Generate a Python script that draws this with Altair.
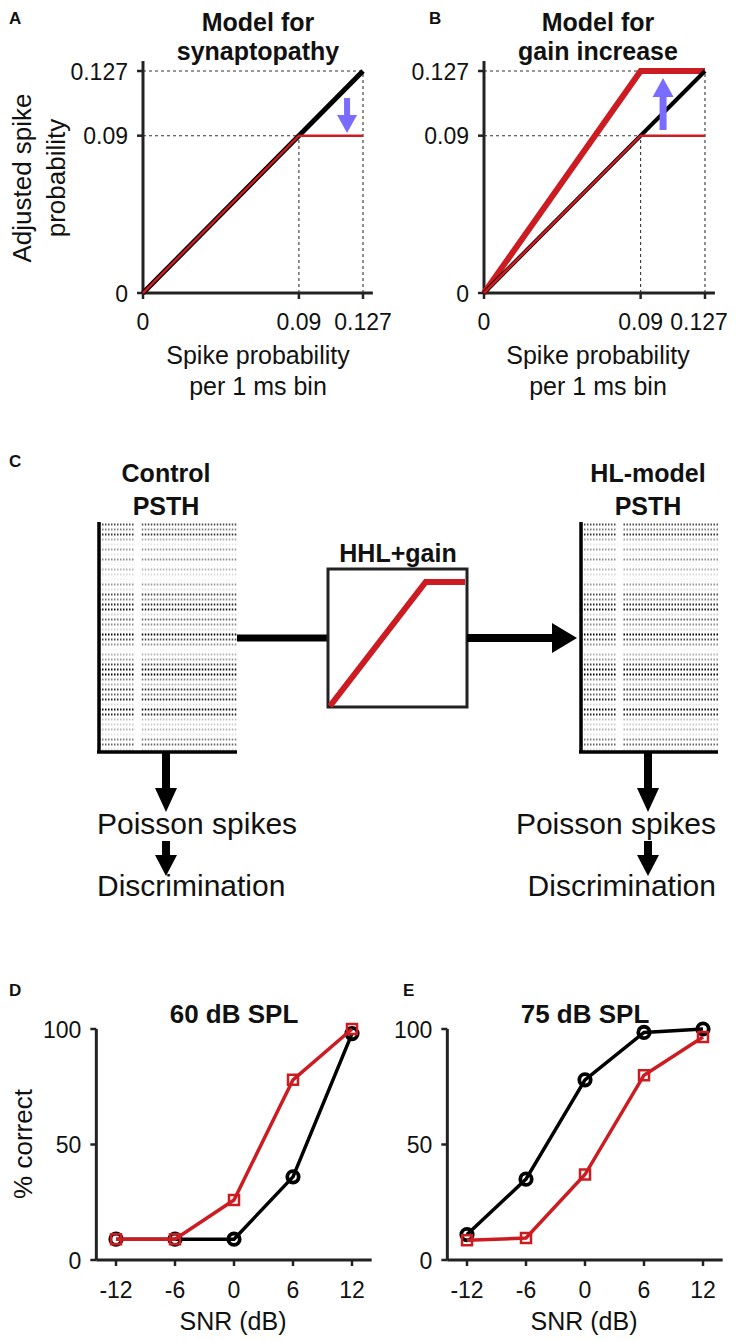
import altair as alt
import pandas as pd

# ---------------- data ----------------
prob_ticks = [0, 0.09, 0.127]
prob_tick_labels = ["0", "0.09", "0.127"]
prob_axis_end = 0.1327
unity_in = [0, 0.127]
unity_out = [0, 0.127]
synapto_in = [0, 0.09, 0.127]
synapto_out = [0, 0.09, 0.09]
gain_in = [0, 0.09, 0.127]
gain_out = [0, 0.127, 0.127]
arrow_a = [0.1178, 0.0915]   # tip of the down arrow in A
arrow_b = [0.1029, 0.123]    # tip of the up arrow in B

snr_db = [-12, -6, 0, 6, 12]
snr_tick_labels = ["-12", "-6", "0", "6", "12"]
pc_ticks = [0, 50, 100]
pc_tick_labels = ["0", "50", "100"]
d_control = [9, 9, 9, 36, 98]
d_hlmodel = [9, 9, 26, 78, 100]
e_control = [11, 35, 78, 98.5, 100]
e_hlmodel = [8.5, 9.5, 37, 80, 96.5]

# spike raster: darkness of each row (top to bottom)
raster_density = [0.7, 0.5, 0.8, 0.35, 0.1, 0.4, 0.1, 0.45, 0.05, 0.3,
                  0.15, 0.05, 0.4, 0.15, 0.7, 0.5, 0.85, 0.9, 0.2, 0.6,
                  0.45, 0.2, 1.0, 0.7, 0.45, 0.05, 0.3, 0.4, 0.75, 0.95,
                  1.0, 0.5, 0.35, 0.8, 0.6, 0.85, 0.15, 0.95, 0.85, 0.25,
                  0.2, 0.3, 0.12, 0.5, 0.6, 0.15]
raster_segments = [[0.0, 0.26], [0.31, 1.0]]

# ---------------- style ----------------
O = 8
FONT = "Liberation Sans, Arial, Helvetica, sans-serif"
RED = "#CC1C22"
BLUE = "#7A6CFF"
AXC = "#222222"
TXT = "#111111"


def S(domain, r0, r1):
    return alt.Scale(domain=domain, range=[r0 - O, r1 - O], nice=False, zero=False)


def X(f, s):
    return alt.X(f, scale=s, axis=None)


def Y(f, s):
    return alt.Y(f, scale=s, axis=None)


def arrow_path(direction, length, head_len, head_w, shaft_w, unit=10.0):
    L, h, w, s = length / unit, head_len / unit, head_w / 2 / unit, shaft_w / 2 / unit
    pts = [(0, 0), (-w, -h), (-s, -h), (-s, -L), (s, -L), (s, -h), (w, -h)]
    if direction == "up":
        pts = [(x, -y) for x, y in pts]
    elif direction == "right":
        pts = [(y, x) for x, y in pts]
    return "M" + "L".join(f"{x:.3f},{y:.3f}" for x, y in pts) + "Z"


ONE = pd.DataFrame({"a": [0]})
layers = []


def text(x, y, t, size, bold=False, align="center", angle=0, lh=None):
    props = dict(font=FONT, fontSize=size, fontWeight="bold" if bold else "normal",
                 align=align, baseline="alphabetic", color=TXT)
    if angle:
        props["angle"] = angle
    if lh:
        props["lineHeight"] = lh
    layers.append(alt.Chart(ONE).mark_text(**props).encode(
        x=alt.value(x - O), y=alt.value(y - O), text=alt.value(t)))


def axes(xs, ys, xmin, xmax, ymin, ymax, xt, xtl, yt, ytl, fs, xdy, last_dx=0):
    layers.append(alt.Chart(pd.DataFrame({"x": [xmin], "x2": [xmax], "y": [ymin]}))
                  .mark_rule(color=AXC, strokeWidth=3)
                  .encode(x=X("x:Q", xs), x2="x2:Q", y=Y("y:Q", ys)))
    layers.append(alt.Chart(pd.DataFrame({"x": [xmin], "y": [ymin], "y2": [ymax]}))
                  .mark_rule(color=AXC, strokeWidth=3)
                  .encode(x=X("x:Q", xs), y=Y("y:Q", ys), y2="y2:Q"))
    layers.append(alt.Chart(pd.DataFrame({"x": [xmin] * len(yt), "y": yt}))
                  .mark_rule(color=AXC, strokeWidth=2.5, xOffset=-6, x2Offset=0)
                  .encode(x=X("x:Q", xs), x2="x:Q", y=Y("y:Q", ys)))
    layers.append(alt.Chart(pd.DataFrame({"x": xt, "y": [ymin] * len(xt)}))
                  .mark_rule(color=AXC, strokeWidth=2.5, yOffset=0, y2Offset=6)
                  .encode(x=X("x:Q", xs), y=Y("y:Q", ys), y2="y:Q"))
    layers.append(alt.Chart(pd.DataFrame({"x": [xmin] * len(yt), "y": yt, "t": ytl}))
                  .mark_text(font=FONT, fontSize=fs, align="right", baseline="alphabetic",
                             dx=-15, dy=8.5, color=TXT)
                  .encode(x=X("x:Q", xs), y=Y("y:Q", ys), text="t:N"))
    n = len(xt)
    layers.append(alt.Chart(pd.DataFrame({"x": xt[:n - 1], "y": [ymin] * (n - 1), "t": xtl[:n - 1]}))
                  .mark_text(font=FONT, fontSize=fs, align="center", baseline="alphabetic",
                             dy=xdy, color=TXT)
                  .encode(x=X("x:Q", xs), y=Y("y:Q", ys), text="t:N"))
    lp = dict(font=FONT, fontSize=fs, align="center", baseline="alphabetic", dy=xdy, color=TXT)
    if last_dx:
        lp["dx"] = last_dx
    layers.append(alt.Chart(pd.DataFrame({"x": xt[n - 1:], "y": [ymin], "t": xtl[n - 1:]}))
                  .mark_text(**lp)
                  .encode(x=X("x:Q", xs), y=Y("y:Q", ys), text="t:N"))


def line(xs, ys, xv, yv, color, width):
    layers.append(alt.Chart(pd.DataFrame({"x": xv, "y": yv}))
                  .mark_line(color=color, strokeWidth=width)
                  .encode(x=X("x:Q", xs), y=Y("y:Q", ys)))


def dashed(xs, ys):
    layers.append(alt.Chart(pd.DataFrame({"x": [0, 0], "x2": [prob_ticks[2]] * 2,
                                          "y": [prob_ticks[1], prob_ticks[2]]}))
                  .mark_rule(color="#333333", strokeWidth=1.1, strokeDash=[3, 3])
                  .encode(x=X("x:Q", xs), x2="x2:Q", y=Y("y:Q", ys)))
    layers.append(alt.Chart(pd.DataFrame({"x": [prob_ticks[1], prob_ticks[2]], "y": [0, 0],
                                          "y2": [prob_ticks[1], prob_ticks[2]]}))
                  .mark_rule(color="#333333", strokeWidth=1.1, strokeDash=[3, 3])
                  .encode(x=X("x:Q", xs), y=Y("y:Q", ys), y2="y2:Q"))


def arrow_at(xs, ys, tip, path, color):
    layers.append(alt.Chart(pd.DataFrame({"x": [tip[0]], "y": [tip[1]]}))
                  .mark_point(shape=path, size=400, filled=True, color=color, opacity=1, strokeWidth=0)
                  .encode(x=X("x:Q", xs), y=Y("y:Q", ys)))


def arrow_px(x, y, path, color="black"):
    layers.append(alt.Chart(ONE)
                  .mark_point(shape=path, size=400, filled=True, color=color, opacity=1, strokeWidth=0)
                  .encode(x=alt.value(x - O), y=alt.value(y - O)))


# ---------------- panel A ----------------
AXs = S([0, 0.127], 143, 363)
AYs = S([0, 0.127], 293, 71)
dashed(AXs, AYs)
axes(AXs, AYs, 0, prob_axis_end, 0, prob_axis_end, prob_ticks, prob_tick_labels,
     prob_ticks, prob_tick_labels, 23, 37)
line(AXs, AYs, unity_in, unity_out, "black", 5)
line(AXs, AYs, synapto_in, synapto_out, RED, 2.5)
arrow_at(AXs, AYs, arrow_a, arrow_path("down", 35, 18, 20, 6), BLUE)
text(9, 24, "A", 17, bold=True, align="left")
text(258, 31, ["Model for", "synaptopathy"], 25, bold=True, lh=29)
text(31, 178, ["Adjusted spike", "probability"], 26, angle=270, lh=34)
text(258, 364, ["Spike probability", "per 1 ms bin"], 25, lh=31)

# ---------------- panel B ----------------
BXs = S([0, 0.127], 484, 705)
BYs = AYs
dashed(BXs, BYs)
axes(BXs, BYs, 0, prob_axis_end, 0, prob_axis_end, prob_ticks, prob_tick_labels,
     prob_ticks, prob_tick_labels, 23, 37, last_dx=-6)
line(BXs, BYs, gain_in, gain_out, RED, 6)
line(BXs, BYs, unity_in, unity_out, "black", 4)
line(BXs, BYs, synapto_in, synapto_out, RED, 2.5)
arrow_at(BXs, BYs, arrow_b, arrow_path("up", 52, 19, 21, 7), BLUE)
text(429, 24, "B", 17, bold=True, align="left")
text(598, 31, ["Model for", "gain increase"], 25, bold=True, lh=29)
text(598, 364, ["Spike probability", "per 1 ms bin"], 25, lh=31)

# ---------------- panel C ----------------
RYs = S([0, len(raster_density)], 522, 752)
for r0, r1 in [(99, 237), (581, 718)]:
    RXs = S([0, 1], r0, r1)
    rows = []
    for i, v in enumerate(raster_density):
        for a, b in raster_segments:
            rows.append({"row": i + 0.5, "x": a, "x2": b, "v": v})
    layers.append(alt.Chart(pd.DataFrame(rows))
                  .mark_rule(color="black", strokeWidth=2.2, strokeDash=[1.5, 1.5])
                  .encode(x=X("x:Q", RXs), x2="x2:Q", y=Y("row:Q", RYs),
                          opacity=alt.Opacity("v:Q", scale=None)))
    layers.append(alt.Chart(pd.DataFrame({"x": [0], "y": [0], "y2": [len(raster_density)]}))
                  .mark_rule(color="black", strokeWidth=3.5)
                  .encode(x=X("x:Q", RXs), y=Y("y:Q", RYs), y2="y2:Q"))
    layers.append(alt.Chart(pd.DataFrame({"x": [0], "x2": [1], "y": [len(raster_density)]}))
                  .mark_rule(color="black", strokeWidth=3.5, xOffset=-2)
                  .encode(x=X("x:Q", RXs), x2="x2:Q", y=Y("y:Q", RYs)))

# connector and transfer-function box
layers.append(alt.Chart(ONE).mark_rule(color="black", strokeWidth=7)
              .encode(x=alt.value(237 - O), x2=alt.value(328 - O), y=alt.value(638 - O)))
layers.append(alt.Chart(ONE).mark_rect(fillOpacity=0, stroke=AXC, strokeWidth=3)
              .encode(x=alt.value(328 - O), x2=alt.value(467 - O),
                      y=alt.value(569 - O), y2=alt.value(707 - O)))
CXs = S([0, 0.127], 330, 465)
CYs = S([0, 0.127], 706, 582)
line(CXs, CYs, gain_in, gain_out, RED, 6)
arrow_px(577, 638, arrow_path("right", 110, 25, 30, 8))
arrow_px(166, 812, arrow_path("down", 60, 24, 22, 8))
arrow_px(166, 876, arrow_path("down", 35, 21, 22, 8))
arrow_px(648, 812, arrow_path("down", 60, 24, 22, 8))
arrow_px(648, 876, arrow_path("down", 35, 21, 22, 8))

text(9, 467, "C", 17, bold=True, align="left")
text(166, 482, ["Control", "PSTH"], 25, bold=True, lh=33)
text(648, 482, ["HL-model", "PSTH"], 25, bold=True, lh=33)
text(398, 562, "HHL+gain", 25, bold=True)
text(97, 834, "Poisson spikes", 30, align="left")
text(97, 896, "Discrimination", 30, align="left")
text(716, 834, "Poisson spikes", 30, align="right")
text(716, 896, "Discrimination", 30, align="right")

# ---------------- panels D and E ----------------
for (x0, x1, ctrl, hl, title, tx, letter, lx) in [
        (116, 352, d_control, d_hlmodel, "60 dB SPL", 234, "D", 9),
        (467, 703, e_control, e_hlmodel, "75 dB SPL", 585, "E", 403)]:
    xs = S([-12, 12], x0, x1)
    ys = S([0, 100], 1260, 1029)
    axes(xs, ys, -14, 14, 0, 100, snr_db, snr_tick_labels, pc_ticks, pc_tick_labels, 23, 38)
    for vals, color, shape, size, sw in [(ctrl, "black", "circle", 130, 3.8),
                                         (hl, RED, "square", 100, 2.5)]:
        dfp = pd.DataFrame({"x": snr_db, "y": vals})
        layers.append(alt.Chart(dfp).mark_line(color=color, strokeWidth=3.5)
                      .encode(x=X("x:Q", xs), y=Y("y:Q", ys)))
        layers.append(alt.Chart(dfp).mark_point(shape=shape, size=size, filled=False, color=color,
                                                strokeWidth=sw, opacity=1)
                      .encode(x=X("x:Q", xs), y=Y("y:Q", ys)))
    text(tx, 1023, title, 26, bold=True)
    text(tx - 1, 1330, "SNR (dB)", 25)
    text(lx, 996, letter, 17, bold=True, align="left")
text(32, 1144, "% correct", 26, angle=270)

chart = (alt.layer(*layers)
         .resolve_scale(x="independent", y="independent")
         .properties(width=720, height=1333, autosize="none", padding=0)
         .configure_view(stroke=None))

chart.save("out.html", embed_options={"renderer": "svg", "actions": False})
